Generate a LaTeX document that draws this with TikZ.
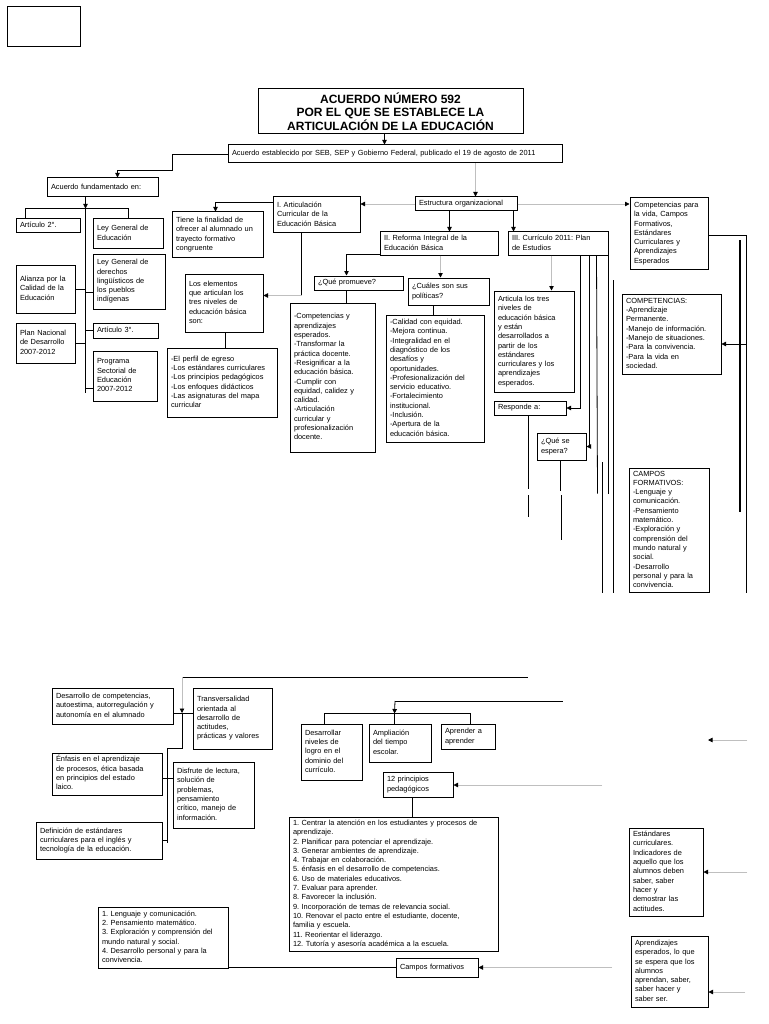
\documentclass[tikz,border=0pt]{standalone}
\usepackage{fontspec}
\setmainfont{Liberation Sans}
\usetikzlibrary{arrows.meta,calc}
\frenchspacing
\newcommand\bxnode[6]{%
  \pgfmathsetmacro\bxcx{#2+#4/2}%
  \pgfmathsetmacro\bxcy{#3+#5/2}%
  \pgfmathsetmacro\bxtw{#4-8}%
  \node[bx, minimum width=#4pt, minimum height=#5pt, text width=\bxtw pt] (#1) at (\bxcx,\bxcy)
   {\begin{tabular}{@{}l@{}}#6\end{tabular}};}
\begin{document}
\begin{tikzpicture}[x=1pt,y=-1pt,
  bx/.style={draw, line width=1pt, inner xsep=4pt, inner ysep=1.5pt, align=left, font=\fontsize{7.4}{9.3}\selectfont},
  ln/.style={line width=0.8pt},
  arr/.style={line width=0.8pt,-{Triangle[length=4.5pt,width=4.5pt]}},
  garr/.style={line width=0.8pt,draw=gray!50,-{Triangle[length=4.5pt,width=4.5pt,color=black]}},
  thk/.style={line width=1.6pt}]
\useasboundingbox[fill=white] (0,0) rectangle (768,1024);

% ---------- boxes (top half) ----------
\bxnode{blank}{7}{7}{73}{40}{}
\node[draw, line width=1pt, minimum width=265pt, minimum height=45pt, align=center,
  font=\fontsize{12}{13.5}\selectfont\bfseries, inner sep=1pt] (title) at (390.5,111.5)
  {ACUERDO NÚMERO 592\\POR EL QUE SE ESTABLECE LA\\ARTICULACIÓN DE LA EDUCACIÓN};
\bxnode{acest}{228}{145}{334}{18}{Acuerdo establecido por SEB, SEP y Gobierno Federal, publicado el 19 de agosto de 2011}
\bxnode{acfund}{47}{178}{111}{19}{Acuerdo fundamentado en:}
\bxnode{art2}{16}{219}{64}{14}{Artículo 2°.}
\bxnode{leyge}{93}{219}{70}{29}{Ley General de\\Educación}
\bxnode{alianza}{16}{265}{59}{48}{Alianza por la\\Calidad de la\\Educación}
\bxnode{leydl}{93}{254}{72}{55}{Ley General de\\derechos\\lingüísticos de\\los pueblos\\indígenas}
\bxnode{plan}{16}{323}{59}{40}{Plan Nacional\\de Desarrollo\\2007-2012}
\bxnode{art3}{93}{323}{65}{15}{Artículo 3°.}
\bxnode{prog}{93}{351}{64}{50}{Programa\\Sectorial de\\Educación\\2007-2012}
\bxnode{estr}{415}{197}{102}{14}{Estructura organizacional}
\bxnode{iart}{273}{197}{87}{36}{I. Articulación\\Curricular de la\\Educación Básica}
\bxnode{tiene}{172}{212}{91}{45}{Tiene la finalidad de\\ofrecer al alumnado un\\trayecto formativo\\congruente}
\bxnode{elem}{185}{274}{78}{58}{Los elementos\\que articulan los\\tres niveles de\\educación básica\\son:}
\bxnode{elist}{167}{348}{110}{69}{-El perfil de egreso\\-Los estándares curriculares\\-Los principios pedagógicos\\-Los enfoques didácticos\\-Las asignaturas del mapa\\curricular}
\bxnode{ii}{380}{232}{118}{23}{II. Reforma Integral de la\\Educación Básica}
\bxnode{iii}{508}{232}{100}{23}{III. Currículo 2011: Plan\\de Estudios}
\bxnode{comp}{630}{198}{78}{71}{Competencias para\\la vida, Campos\\Formativos,\\Estándares\\Curriculares y\\Aprendizajes\\Esperados}
\bxnode{quep}{314}{276}{89}{14}{¿Qué promueve?}
\bxnode{plist}{290}{303}{85}{149}{-Competencias y\\aprendizajes\\esperados.\\-Transformar la\\práctica docente.\\-Resignificar a la\\educación básica.\\-Cumplir con\\equidad, calidez y\\calidad.\\-Articulación\\curricular y\\profesionalización\\docente.}
\bxnode{cual}{408}{278}{81}{27}{¿Cuáles son sus\\políticas?}
\bxnode{pollist}{386}{315}{98}{127}{-Calidad con equidad.\\-Mejora continua.\\-Integralidad en el\\diagnóstico de los\\desafíos y\\oportunidades.\\-Profesionalización del\\servicio educativo.\\-Fortalecimiento\\institucional.\\-Inclusión.\\-Apertura de la\\educación básica.}
\bxnode{articula}{494}{291}{80}{101}{Articula los tres\\niveles de\\educación básica\\y están\\desarrollados a\\partir de los\\estándares\\curriculares y los\\aprendizajes\\esperados.}
\bxnode{resp}{494}{401}{72}{14}{Responde a:}
\bxnode{quese}{537}{433}{49}{27}{¿Qué se\\espera?}
\bxnode{competencias}{622}{294}{99}{80}{COMPETENCIAS:\\-Aprendizaje\\Permanente.\\-Manejo de información.\\-Manejo de situaciones.\\-Para la convivencia.\\-Para la vida en\\sociedad.}
\bxnode{campos}{629}{468}{80}{124}{CAMPOS\\FORMATIVOS:\\-Lenguaje y\\comunicación.\\-Pensamiento\\matemático.\\-Exploración y\\comprensión del\\mundo natural y\\social.\\-Desarrollo\\personal y para la\\convivencia.}

% ---------- boxes (bottom half) ----------
\bxnode{desc}{52}{688}{121}{36}{Desarrollo de competencias,\\autoestima, autorregulación y\\autonomía en el alumnado}
\bxnode{trans}{193}{688}{79}{61}{Transversalidad\\orientada al\\desarrollo de\\actitudes,\\prácticas y valores}
\bxnode{enf}{52}{753}{110}{42}{Énfasis en el aprendizaje\\de procesos, ética basada\\en principios del estado\\laico.}
\bxnode{disf}{173}{762}{81}{66}{Disfrute de lectura,\\solución de\\problemas,\\pensamiento\\crítico, manejo de\\información.}
\bxnode{defi}{36}{822}{126}{37}{Definición de estándares\\curriculares para el inglés y\\tecnología de la educación.}
\bxnode{desarr}{301}{724}{61}{56}{Desarrollar\\niveles de\\logro en el\\dominio del\\currículo.}
\bxnode{ampl}{369}{724}{62}{38}{Ampliación\\del tiempo\\escolar.}
\bxnode{apr}{441}{724}{54}{25}{Aprender a\\aprender}
\bxnode{doce}{383}{772}{70}{25}{12 principios\\pedagógicos}
\bxnode{prin}{289}{817}{209}{134}{1. Centrar la atención en los estudiantes y procesos de\\aprendizaje.\\2. Planificar para potenciar el aprendizaje.\\3. Generar ambientes de aprendizaje.\\4. Trabajar en colaboración.\\5. énfasis en el desarrollo de competencias.\\6. Uso de materiales educativos.\\7. Evaluar para aprender.\\8. Favorecer la inclusión.\\9. Incorporación de temas de relevancia social.\\10. Renovar el pacto entre el estudiante, docente,\\familia y escuela.\\11. Reorientar el liderazgo.\\12. Tutoría y asesoría académica a la escuela.}
\bxnode{cflist}{98}{907}{130}{61}{1. Lenguaje y comunicación.\\2. Pensamiento matemático.\\3. Exploración y comprensión del\\mundo natural y social.\\4. Desarrollo personal y para la\\convivencia.}
\bxnode{cfbox}{396}{958}{82}{19}{Campos formativos}
\bxnode{estand}{629}{828}{74}{88}{Estándares\\curriculares.\\Indicadores de\\aquello que los\\alumnos deben\\saber, saber\\hacer y\\demostrar las\\actitudes.}
\bxnode{aprend}{631}{936}{77}{71}{Aprendizajes\\esperados, lo que\\se espera que los\\alumnos\\aprendan, saber,\\saber hacer y\\saber ser.}

% ---------- connectors (top half) ----------
\draw[arr] ([xshift=127pt]title.south west) -- ([xshift=157pt]acest.north west);
\draw[arr] (acest.west) -- ++(-55,0) -- ++(0,16) -| ([xshift=71pt]acfund.north west);
\draw[garr] ([xshift=248pt]acest.south west) -- ([xshift=61pt]estr.north west);
\coordinate (trk) at ([xshift=39pt]acfund.south west);
\draw[ln] (trk) -- ++(0,195);
\draw[arr] (trk) -- ++(0,11);
\draw[ln] ([xshift=10pt]art2.north west) -- ++(0,-10) -| ([xshift=36pt]leyge.north west);
\draw[ln] (alianza.east) -- (alianza.east -| trk);
\coordinate (ld) at ([yshift=-11pt]leydl.west);
\draw[ln] (ld) -- (ld -| trk);
\draw[ln] (plan.east) -- (plan.east -| trk);
\draw[ln] (art3.west) -- (art3.west -| trk);
\coordinate (pg) at ([yshift=-12pt]prog.west);
\draw[ln] (pg) -- (pg -| trk);
\draw[garr] (estr.west) -- (estr.west -| iart.east);
\draw[garr] (estr.east) -- (estr.east -| comp.west);
\draw[arr] ([xshift=35pt]estr.south west) -- ([xshift=70pt]ii.north west);
\draw[arr] ([xshift=99pt]estr.south west) -- ([xshift=6pt]iii.north west);
\draw[arr] ([yshift=-6pt]iart.north west) -| ([xshift=44pt]tiene.north west);
\draw[ln] ([xshift=29pt]iart.south west) -- ++(0,62) coordinate (k1);
\draw[garr] (k1) -- (k1 -| elem.east);
\draw[ln] ([xshift=41pt]elem.south west) -- ([xshift=59pt]elist.north west);
\draw[arr] ([yshift=1.5pt]ii.south west) -| ([xshift=33pt]quep.north west);
\draw[garr] ([xshift=61pt]ii.south west) -- ([xshift=33pt]cual.north west);
\draw[ln] ([xshift=33pt]quep.south west) -- ([xshift=57pt]plist.north west);
\draw[ln] ([xshift=26pt]cual.south west) -- ([xshift=48pt]pollist.north west);
\draw[garr] ([xshift=44pt]iii.south west) -- ([xshift=58pt]articula.north west);
\draw[arr] ([xshift=73pt]iii.south west) |- (resp.east);
\draw[arr] ([xshift=82pt]iii.south west) |- (quese.east);
\draw[ln] ([xshift=89pt]iii.south west) -- ++(1,238);
\draw[ln] (iii.south east) -- ++(0,238);
\coordinate (va) at (602,462); \coordinate (vb) at (602,593); \draw[ln] (va) -- (vb);
\coordinate (vc) at (613,280); \coordinate (vd) at (613,593); \draw[ln] (vc) -- (vd);
\draw[ln] ([yshift=-38pt]comp.north east) -- ++(38,0) coordinate (rc) -- ++(0,357);
\coordinate (re) at (740,240); \coordinate (rf) at (740,512); \draw[thk] (re) -- (rf);
\coordinate (ce) at ([yshift=-10pt]competencias.east);
\draw[arr] (ce -| rc) -- (ce);
\draw[ln] ([xshift=35pt]resp.south west) -- ++(0,73);
\coordinate (s1) at (528,495); \coordinate (s2) at (528,517); \draw[ln] (s1) -- (s2);
\draw[ln] ([xshift=24pt]quese.south west) -- ++(0,30);
\coordinate (s3) at (561,495); \coordinate (s4) at (561,540); \draw[ln] (s3) -- (s4);

% ---------- connectors (bottom half) ----------
\coordinate (t1) at (182,677); \coordinate (t2) at (528,677); \draw[ln] (t1) -- (t2);
\coordinate (ja) at (182,713);
\draw[garr] (t1) -- (ja);
\draw[ln] (ja -| desc.east) -- (ja -| trans.west);
\draw[ln] (ja) -- ++(0,35) -- ++(-15,0) coordinate (jb) -- ++(0,95);
\coordinate (jc) at (167,778);
\draw[ln] (jc -| enf.east) -- (jc -| disf.west);
\draw[ln] (defi.east) -- (defi.east -| jb);
\coordinate (u1) at (395,701); \coordinate (u2) at (563,701); \draw[ln] (u1) -- (u2);
\draw[arr] (u1) -- ([xshift=26pt,yshift=10pt]ampl.north west);
\draw[ln] ([xshift=24pt]desarr.north west) -- ++(0,-10) -| ([xshift=30pt]apr.north west);
\draw[ln] ([xshift=26pt,yshift=10pt]ampl.north west) -- ([xshift=26pt]ampl.north west);
\coordinate (p1) at (602,785); \draw[garr] (p1) -- (p1 -| doce.east);
\draw[ln] ([xshift=30pt]doce.south west) -- ([xshift=124pt]prin.north west);
\draw[ln] (cfbox.west) -- (cfbox.west -| cflist.east);
\coordinate (p2) at (612,0); \draw[garr] (cfbox.east -| p2) -- (cfbox.east);
\coordinate (q1) at (747,740); \coordinate (q2) at (708,740); \draw[garr] (q1) -- (q2);
\coordinate (q3) at (747,0); \draw[garr] (estand.east -| q3) -- (estand.east);
\coordinate (q4) at (745,992); \draw[garr] (q4) -- (q4 -| aprend.east);
\end{tikzpicture}
\end{document}
